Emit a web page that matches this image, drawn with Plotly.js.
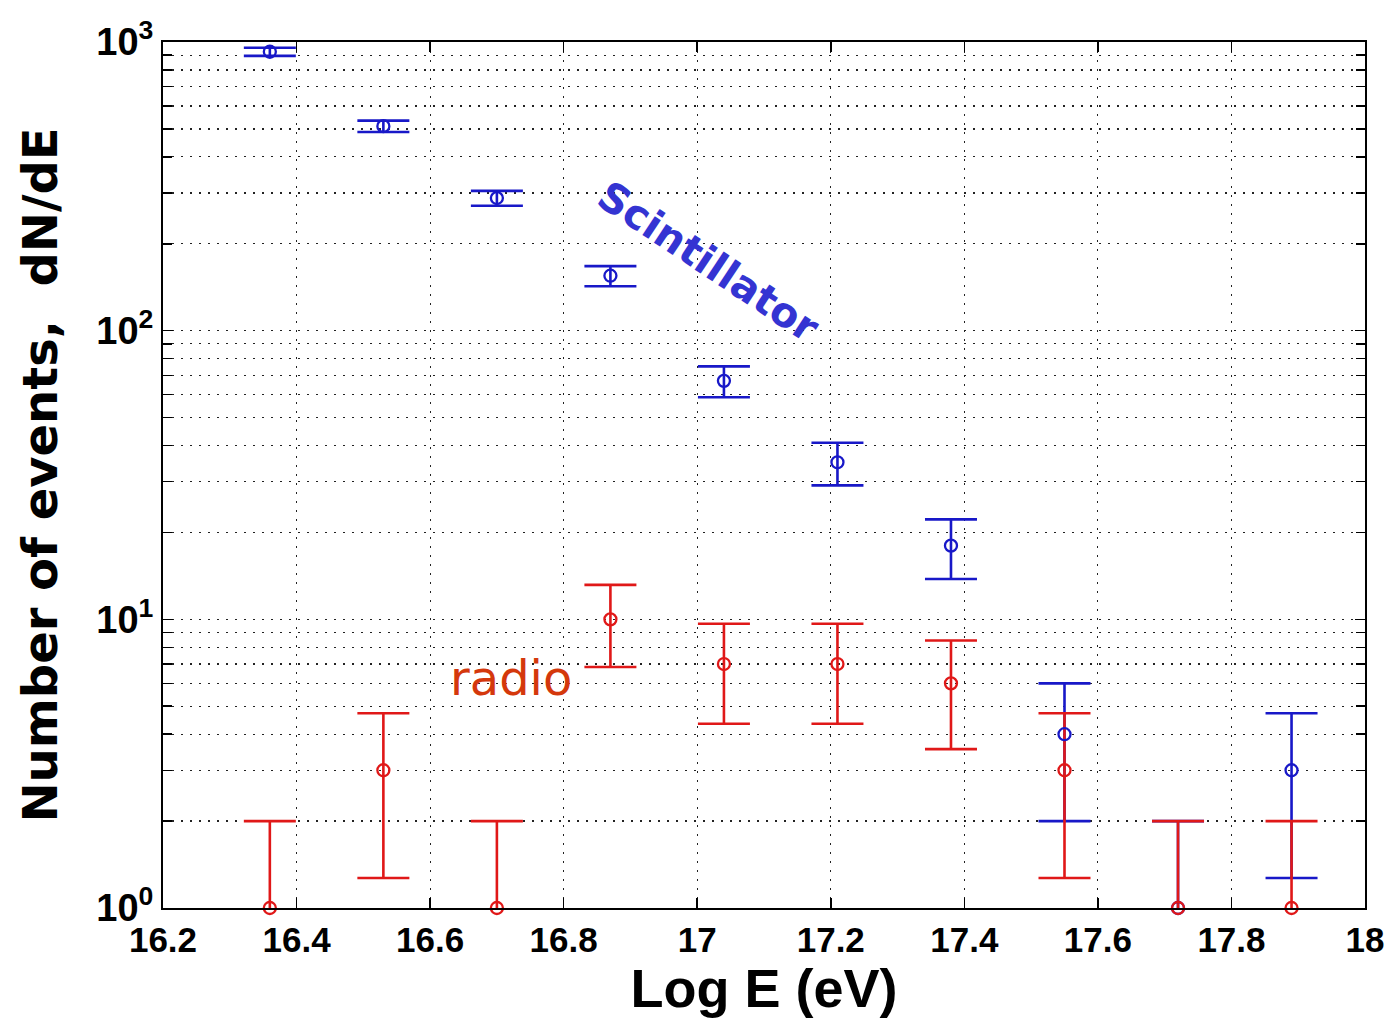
<!DOCTYPE html>
<html>
<head>
<meta charset="utf-8">
<script src="https://cdn.plot.ly/plotly-3.0.1.min.js"></script>
<style>html,body{margin:0;padding:0;background:#fff;}#chart{width:1391px;height:1018px;}</style>
</head>
<body>
<div id="chart"></div>
<script>
// Data
const logE = [16.36, 16.53, 16.70, 16.87, 17.04, 17.21, 17.38, 17.55, 17.72, 17.89];
const scintN = [925, 511, 288, 155, 67, 35, 18, 4, 1, 3];
const scintErr = [30, 23, 17, 12.4, 8.2, 5.9, 4.2, 2, 1, 1.73];
const radioN = [1, 3, 1, 10, 7, 7, 6, 3, 1, 1];
const radioErr = [1, 1.73, 1, 3.16, 2.65, 2.65, 2.45, 1.73, 1, 1];
const yTickVals = [1, 10, 100, 1000];
const yTickText = ['10<sup>0</sup>', '10<sup>1</sup>', '10<sup>2</sup>', '10<sup>3</sup>'];
const yMinorVals = [2,3,4,5,6,7,8,9,20,30,40,50,60,70,80,90,200,300,400,500,600,700,800,900];

const BLUE = '#1818c8';
const RED = '#e01818';

function errTrace(y, err, color) {
  return {
    x: logE, y: y, type: 'scatter', mode: 'markers',
    marker: {size: 2, opacity: 0, color: color},
    error_y: {type: 'data', array: err, visible: true, color: color, thickness: 2.6, width: 26},
    cliponaxis: true, showlegend: false, hoverinfo: 'skip'
  };
}
function markTrace(y, color) {
  return {
    x: logE, y: y, type: 'scatter', mode: 'markers',
    marker: {symbol: 'circle-open', size: 12, color: color, line: {width: 2.3, color: color}},
    cliponaxis: false, showlegend: false
  };
}

const data = [
  errTrace(scintN, scintErr, BLUE),
  errTrace(radioN, radioErr, RED),
  markTrace(scintN, BLUE),
  markTrace(radioN, RED)
];

const gridDash = '2px,7px';
const layout = {
  width: 1391, height: 1018,
  margin: {l: 163, r: 26, t: 42, b: 110},
  paper_bgcolor: '#fff', plot_bgcolor: '#fff',
  showlegend: false,
  xaxis: {
    range: [16.2, 18], dtick: 0.2, tick0: 16.2,
    ticks: 'inside', ticklen: 10, tickwidth: 1.5, tickcolor: '#000',
    showline: true, linecolor: '#000', linewidth: 2, mirror: 'ticks',
    showgrid: true, gridcolor: '#222', griddash: gridDash, gridwidth: 1.2,
    zeroline: false,
    tickfont: {family: 'Liberation Sans, Arial, sans-serif', size: 35, color: '#000', weight: 'bold'},
    title: {text: '<b>Log E (eV)</b>', font: {family: 'Liberation Sans, Arial, sans-serif', size: 54, color: '#000'}, standoff: 0}
  },
  yaxis: {
    type: 'log', range: [0, 3],
    tickmode: 'array', tickvals: yTickVals, ticktext: yTickText,
    ticks: 'inside', ticklen: 10, tickwidth: 1.5, tickcolor: '#000',
    showline: true, linecolor: '#000', linewidth: 2, mirror: 'ticks',
    showgrid: true, gridcolor: '#222', griddash: gridDash, gridwidth: 1.2,
    zeroline: false,
    tickfont: {family: 'Liberation Sans, Arial, sans-serif', size: 38, color: '#000', weight: 'bold'},
    minor: {tickmode: 'array', tickvals: yMinorVals, ticks: 'inside', ticklen: 9, tickwidth: 1.5, tickcolor: '#000',
            showgrid: true, gridcolor: '#222', griddash: gridDash, gridwidth: 1.2},
    title: {text: '<b>Number of events,  dN/dE</b>', font: {family: 'Comic Sans MS, DejaVu Sans, sans-serif', size: 48, color: '#000'}, standoff: 24}
  },
  annotations: [
    {x: 17.017, y: 2.2376, xref: 'x', yref: 'y', text: '<b>Scintillator</b>', showarrow: false, textangle: 33.5,
     font: {family: 'Comic Sans MS, DejaVu Sans, sans-serif', size: 41, color: '#3434d2'}},
    {x: 16.721, y: 0.797, xref: 'x', yref: 'y', text: 'radio', showarrow: false,
     font: {family: 'Comic Sans MS, DejaVu Sans, sans-serif', size: 48, color: '#d4380c'}}
  ]
};

Plotly.newPlot('chart', data, layout, {displayModeBar: false, staticPlot: true});
</script>
</body>
</html>
